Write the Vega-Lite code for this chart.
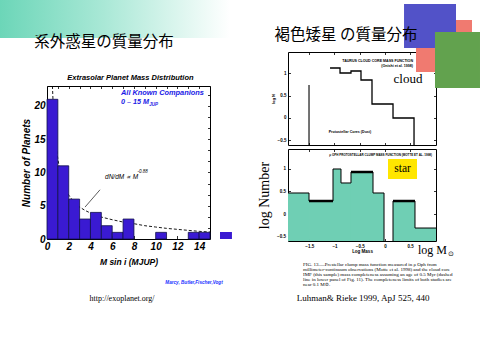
{
"$schema":"https://vega.github.io/schema/vega-lite/v6.json",
"width":480,"height":360,"autosize":"none","padding":0,"background":"white",
"config":{"view":{"stroke":null},"axis":{"grid":false,"domainColor":"black","domainWidth":1,"tickColor":"black","tickWidth":0.8,"labelColor":"black","titleColor":"black","minExtent":0,"labelFlush":false,"labelOverlap":false,"labelBound":false,"zindex":1}},
"resolve":{"scale":{"x":"independent","y":"independent"},"axis":{"x":"independent","y":"independent"}},
"layer":[
{"resolve":{"axis":{"x":"independent","y":"independent"}},
 "layer":[
  {"data":{"values":[{}]},"mark":{"type":"rect","color":{"gradient":"linear","x1":0,"y1":0,"x2":1,"y2":0,"stops":[{"offset":0,"color":"#6cd6b8"},{"offset":0.45,"color":"#a9e8d6"},{"offset":1,"color":"#ffffff"}]}},
   "encoding":{"x":{"datum":-4.33,"type":"quantitative","scale":{"domain":[0,15],"range":[47,210],"nice":false,"zero":false},"axis":null},"x2":{"datum":16.84},"y":{"datum":35.93,"type":"quantitative","scale":{"domain":[0,23],"range":[239,86],"nice":false,"zero":false},"axis":null},"y2":{"datum":30.22}}},
  {"data":{"values":[{"m":0.5,"n":23},{"m":0.6,"n":19},{"m":0.8,"n":14.5},{"m":1.0,"n":12},{"m":1.2,"n":10.2},{"m":1.5,"n":8.4},{"m":2.0,"n":6.6},{"m":2.5,"n":5.5},{"m":3.0,"n":4.8},{"m":3.5,"n":4.3},{"m":4,"n":3.9},{"m":5,"n":3.3},{"m":6,"n":2.9},{"m":7,"n":2.55},{"m":8,"n":2.3},{"m":9,"n":2.0},{"m":10,"n":1.8},{"m":11,"n":1.6},{"m":12,"n":1.45},{"m":13,"n":1.3},{"m":14,"n":1.15},{"m":15,"n":1.05}]},
   "mark":{"type":"line","color":"black","strokeWidth":0.9,"strokeDash":[3,2]},
   "encoding":{"x":{"field":"m","type":"quantitative","scale":{"domain":[0,15],"range":[47,210],"nice":false,"zero":false},"axis":{"orient":"top","offset":-86,"values":[0,1,2,3,4,5,6,7,8,9,10,11,12,13,14,15],"tickSize":-2.5,"labels":false,"title":null}},
    "y":{"field":"n","type":"quantitative","scale":{"domain":[0,23],"range":[239,86],"nice":false,"zero":false},"axis":{"orient":"right","offset":-270,"values":[1.67,3.33,5,6.67,8.33,10,11.67,13.33,15,16.67,18.33,20,21.67],"tickSize":-2.5,"labels":false,"title":null}}}},
  {"data":{"values":[{"lo":0,"hi":1,"count":21},{"lo":1,"hi":2,"count":11},{"lo":2,"hi":3,"count":6},{"lo":3,"hi":4,"count":3},{"lo":4,"hi":5,"count":4},{"lo":5,"hi":6,"count":2},{"lo":6,"hi":7,"count":1},{"lo":7,"hi":8,"count":3},{"lo":10,"hi":11,"count":1},{"lo":13,"hi":14,"count":1},{"lo":14,"hi":15,"count":1}]},
   "mark":{"type":"rect","fill":"#3a1ad2","stroke":"#10104a","strokeWidth":0.8},
   "encoding":{"x":{"field":"lo","type":"quantitative","scale":{"domain":[0,15],"range":[47,210],"nice":false,"zero":false},"axis":{"orient":"bottom","offset":-121,"values":[0,2,4,6,8,10,12,14],"tickSize":-3.5,"labelPadding":6,"labelFont":"Liberation Sans","labelFontSize":10,"labelFontWeight":"bold","labelFontStyle":"italic","title":"M sin i  (MJUP)","titleFont":"Liberation Sans","titleFontSize":8.5,"titleFontWeight":"bold","titleFontStyle":"italic","titlePadding":6}},
    "x2":{"field":"hi"},
    "y":{"field":"count","type":"quantitative","scale":{"domain":[0,23],"range":[239,86],"nice":false,"zero":false},"axis":{"orient":"left","offset":-47,"values":[0,5,10,15,20],"tickSize":-3.5,"labelPadding":5.5,"labelFont":"Liberation Sans","labelFontSize":10,"labelFontWeight":"bold","labelFontStyle":"italic","title":"Number of Planets","titleFont":"Liberation Sans","titleFontSize":10,"titleFontWeight":"bold","titleFontStyle":"italic","titlePadding":2}},
    "y2":{"datum":0}}},
  {"data":{"values":[{}]},"mark":{"type":"rect","fill":"#3a1ad2"},
   "encoding":{"x":{"datum":15.92,"type":"quantitative","scale":{"domain":[0,15],"range":[47,210],"nice":false,"zero":false},"axis":null},"x2":{"datum":17.02},"y":{"datum":1.05,"type":"quantitative","scale":{"domain":[0,23],"range":[239,86],"nice":false,"zero":false},"axis":null},"y2":{"datum":0}}},
  {"data":{"values":[{}]},"mark":{"type":"rule","color":"#333333","strokeWidth":0.8},
   "encoding":{"x":{"datum":4.88,"type":"quantitative","scale":{"domain":[0,15],"range":[47,210],"nice":false,"zero":false},"axis":null},"x2":{"datum":3.5},"y":{"datum":7.4,"type":"quantitative","scale":{"domain":[0,23],"range":[239,86],"nice":false,"zero":false},"axis":null},"y2":{"datum":4.8}}},
  {"data":{"values":[{}]},"mark":{"type":"text","text":"系外惑星の質量分布","font":"Noto Sans CJK JP","fontSize":15.5,"color":"black"},
   "encoding":{"x":{"datum":5.245,"type":"quantitative","scale":{"domain":[0,15],"range":[47,210],"nice":false,"zero":false},"axis":null},"y":{"datum":29.62,"type":"quantitative","scale":{"domain":[0,23],"range":[239,86],"nice":false,"zero":false},"axis":null}}},
  {"data":{"values":[{}]},"mark":{"type":"text","text":"Extrasolar Planet Mass Distribution","font":"Liberation Sans","fontSize":7.5,"fontWeight":"bold","fontStyle":"italic","color":"black"},
   "encoding":{"x":{"datum":7.68,"type":"quantitative","scale":{"domain":[0,15],"range":[47,210],"nice":false,"zero":false},"axis":null},"y":{"datum":24.2,"type":"quantitative","scale":{"domain":[0,23],"range":[239,86],"nice":false,"zero":false},"axis":null}}},
  {"data":{"values":[{}]},"mark":{"type":"text","text":"All Known Companions","align":"left","font":"Liberation Sans","fontSize":7.4,"fontWeight":"bold","fontStyle":"italic","color":"#1a1ae6"},
   "encoding":{"x":{"datum":6.81,"type":"quantitative","scale":{"domain":[0,15],"range":[47,210],"nice":false,"zero":false},"axis":null},"y":{"datum":21.95,"type":"quantitative","scale":{"domain":[0,23],"range":[239,86],"nice":false,"zero":false},"axis":null}}},
  {"data":{"values":[{}]},"mark":{"type":"text","text":"0 – 15 M","align":"left","font":"Liberation Sans","fontSize":7.2,"fontWeight":"bold","fontStyle":"italic","color":"#1a1ae6"},
   "encoding":{"x":{"datum":6.81,"type":"quantitative","scale":{"domain":[0,15],"range":[47,210],"nice":false,"zero":false},"axis":null},"y":{"datum":20.55,"type":"quantitative","scale":{"domain":[0,23],"range":[239,86],"nice":false,"zero":false},"axis":null}}},
  {"data":{"values":[{}]},"mark":{"type":"text","text":"JUP","align":"left","font":"Liberation Sans","fontSize":4.5,"fontWeight":"bold","fontStyle":"italic","color":"#1a1ae6"},
   "encoding":{"x":{"datum":9.42,"type":"quantitative","scale":{"domain":[0,15],"range":[47,210],"nice":false,"zero":false},"axis":null},"y":{"datum":20.15,"type":"quantitative","scale":{"domain":[0,23],"range":[239,86],"nice":false,"zero":false},"axis":null}}},
  {"data":{"values":[{}]},"mark":{"type":"text","text":"dN/dM ∝ M","align":"left","font":"Liberation Sans","fontSize":6.5,"fontStyle":"italic","color":"black"},
   "encoding":{"x":{"datum":5.34,"type":"quantitative","scale":{"domain":[0,15],"range":[47,210],"nice":false,"zero":false},"axis":null},"y":{"datum":9.32,"type":"quantitative","scale":{"domain":[0,23],"range":[239,86],"nice":false,"zero":false},"axis":null}}},
  {"data":{"values":[{}]},"mark":{"type":"text","text":"-0.88","align":"left","font":"Liberation Sans","fontSize":4.5,"fontStyle":"italic","color":"black"},
   "encoding":{"x":{"datum":8.32,"type":"quantitative","scale":{"domain":[0,15],"range":[47,210],"nice":false,"zero":false},"axis":null},"y":{"datum":10.0,"type":"quantitative","scale":{"domain":[0,23],"range":[239,86],"nice":false,"zero":false},"axis":null}}},
  {"data":{"values":[{}]},"mark":{"type":"text","text":"Marcy, Butler,Fischer,Vogt","font":"Liberation Sans","fontSize":4.6,"fontWeight":"bold","fontStyle":"italic","color":"#2030ff"},
   "encoding":{"x":{"datum":13.53,"type":"quantitative","scale":{"domain":[0,15],"range":[47,210],"nice":false,"zero":false},"axis":null},"y":{"datum":-6.61,"type":"quantitative","scale":{"domain":[0,23],"range":[239,86],"nice":false,"zero":false},"axis":null}}},
  {"data":{"values":[{}]},"mark":{"type":"text","text":"http://exoplanet.org/","font":"Liberation Serif, DejaVu Serif, serif","fontSize":8,"color":"black"},
   "encoding":{"x":{"datum":6.9,"type":"quantitative","scale":{"domain":[0,15],"range":[47,210],"nice":false,"zero":false},"axis":null},"y":{"datum":-9.02,"type":"quantitative","scale":{"domain":[0,23],"range":[239,86],"nice":false,"zero":false},"axis":null}}}
 ]},
{"resolve":{"axis":{"x":"independent","y":"independent"}},
 "layer":[
  {"data":{"values":[{"logm":-1.088,"v":1.123},{"logm":-0.89,"v":1.011},{"logm":-0.673,"v":1.056},{"logm":-0.475,"v":0.854},{"logm":-0.257,"v":0.314},{"logm":0.159,"v":0},{"logm":0.575,"v":-0.607}]},
   "mark":{"type":"line","interpolate":"step-after","color":"black","strokeWidth":1.3},
   "encoding":{"x":{"field":"logm","type":"quantitative","scale":{"domain":[-1.92,1.01],"range":[288,436],"nice":false,"zero":false},"axis":{"orient":"bottom","offset":-215,"values":[-1.5,-1,-0.5,0,0.5],"tickSize":-2.5,"labels":false,"title":null,"zindex":0}},
    "y":{"field":"v","type":"quantitative","scale":{"domain":[-0.607,1.483],"range":[145,52],"nice":false,"zero":false},"axis":{"orient":"left","offset":-288,"values":[-0.5,0,0.5,1],"format":".1~f","tickSize":-2.5,"labelPadding":4.5,"labelFont":"Liberation Sans","labelFontSize":4.5,"labelFontWeight":"bold","title":"log N","titleFont":"Liberation Sans","titleFontSize":4,"titleFontWeight":"bold","titlePadding":2,"zindex":0}}}},
  {"data":{"values":[{}]},"mark":{"type":"rule","color":"black","strokeWidth":1.1},
   "encoding":{"x":{"datum":-1.504,"type":"quantitative","scale":{"domain":[-1.92,1.01],"range":[288,436],"nice":false,"zero":false},"axis":{"orient":"top","offset":-52,"values":[-1.5,-1,-0.5,0,0.5],"tickSize":-2.5,"labels":false,"title":null,"zindex":0}},
    "y":{"datum":0.741,"type":"quantitative","scale":{"domain":[-0.607,1.483],"range":[145,52],"nice":false,"zero":false},"axis":{"orient":"right","offset":-44,"values":[-0.5,0,0.5,1],"tickSize":-2.5,"labels":false,"title":null,"zindex":0}},
    "y2":{"datum":-0.607}}},
  {"data":{"values":[{}]},"mark":{"type":"rect","fill":"#5252c8"},
   "encoding":{"x":{"datum":0.377,"type":"quantitative","scale":{"domain":[-1.92,1.01],"range":[288,436],"nice":false,"zero":false},"axis":null},"x2":{"datum":1.406},"y":{"datum":2.562,"type":"quantitative","scale":{"domain":[-0.607,1.483],"range":[145,52],"nice":false,"zero":false},"axis":null},"y2":{"datum":1.573}}},
  {"data":{"values":[{}]},"mark":{"type":"rect","fill":"#f07a70"},
   "encoding":{"x":{"datum":1.406,"type":"quantitative","scale":{"domain":[-1.92,1.01],"range":[288,436],"nice":false,"zero":false},"axis":null},"x2":{"datum":1.723},"y":{"datum":2.202,"type":"quantitative","scale":{"domain":[-0.607,1.483],"range":[145,52],"nice":false,"zero":false},"axis":null},"y2":{"datum":1.932}}},
  {"data":{"values":[{}]},"mark":{"type":"rect","fill":"#62a24e"},
   "encoding":{"x":{"datum":0.99,"type":"quantitative","scale":{"domain":[-1.92,1.01],"range":[288,436],"nice":false,"zero":false},"axis":null},"x2":{"datum":1.881},"y":{"datum":1.932,"type":"quantitative","scale":{"domain":[-0.607,1.483],"range":[145,52],"nice":false,"zero":false},"axis":null},"y2":{"datum":0.674}}},
  {"data":{"values":[{}]},"mark":{"type":"rect","fill":"#f07a70"},
   "encoding":{"x":{"datum":0.614,"type":"quantitative","scale":{"domain":[-1.92,1.01],"range":[288,436],"nice":false,"zero":false},"axis":null},"x2":{"datum":0.99},"y":{"datum":1.573,"type":"quantitative","scale":{"domain":[-0.607,1.483],"range":[145,52],"nice":false,"zero":false},"axis":null},"y2":{"datum":1.033}}},
  {"data":{"values":[{}]},"mark":{"type":"text","text":"褐色矮星 の質量分布","font":"Noto Sans CJK JP","fontSize":15.5,"color":"black"},
   "encoding":{"x":{"datum":-0.772,"type":"quantitative","scale":{"domain":[-1.92,1.01],"range":[288,436],"nice":false,"zero":false},"axis":null},"y":{"datum":1.865,"type":"quantitative","scale":{"domain":[-0.607,1.483],"range":[145,52],"nice":false,"zero":false},"axis":null}}},
  {"data":{"values":[{}]},"mark":{"type":"text","text":"TAURUS CLOUD CORE MASS FUNCTION","align":"right","font":"Liberation Sans","fontSize":3.6,"fontWeight":"bold","color":"black"},
   "encoding":{"x":{"datum":0.555,"type":"quantitative","scale":{"domain":[-1.92,1.01],"range":[288,436],"nice":false,"zero":false},"axis":null},"y":{"datum":1.281,"type":"quantitative","scale":{"domain":[-0.607,1.483],"range":[145,52],"nice":false,"zero":false},"axis":null}}},
  {"data":{"values":[{}]},"mark":{"type":"text","text":"(Onishi et al. 1998)","align":"right","font":"Liberation Sans","fontSize":3.6,"fontWeight":"bold","color":"black"},
   "encoding":{"x":{"datum":0.555,"type":"quantitative","scale":{"domain":[-1.92,1.01],"range":[288,436],"nice":false,"zero":false},"axis":null},"y":{"datum":1.168,"type":"quantitative","scale":{"domain":[-0.607,1.483],"range":[145,52],"nice":false,"zero":false},"axis":null}}},
  {"data":{"values":[{}]},"mark":{"type":"text","text":"Protostellar Cores (Dust)","font":"Liberation Sans","fontSize":3.6,"fontWeight":"bold","color":"black"},
   "encoding":{"x":{"datum":-0.693,"type":"quantitative","scale":{"domain":[-1.92,1.01],"range":[288,436],"nice":false,"zero":false},"axis":null},"y":{"datum":-0.315,"type":"quantitative","scale":{"domain":[-0.607,1.483],"range":[145,52],"nice":false,"zero":false},"axis":null}}},
  {"data":{"values":[{}]},"mark":{"type":"text","text":"cloud","font":"Liberation Serif, DejaVu Serif, serif","fontSize":13,"color":"black"},
   "encoding":{"x":{"datum":0.456,"type":"quantitative","scale":{"domain":[-1.92,1.01],"range":[288,436],"nice":false,"zero":false},"axis":null},"y":{"datum":0.876,"type":"quantitative","scale":{"domain":[-0.607,1.483],"range":[145,52],"nice":false,"zero":false},"axis":null}}}
 ]},
{"resolve":{"axis":{"x":"independent","y":"independent"}},
 "layer":[
  {"data":{"values":[{"lo":-1.92,"hi":-1.504,"v":0.464},{"lo":-1.504,"hi":-1.029,"v":0.288},{"lo":-1.029,"hi":-0.871,"v":0.991},{"lo":-0.871,"hi":-0.673,"v":0.684},{"lo":-0.673,"hi":-0.237,"v":0.925},{"lo":-0.237,"hi":-0.019,"v":0.464},{"lo":0.159,"hi":0.594,"v":0.288},{"lo":0.594,"hi":1.01,"v":-0.305}]},
   "mark":{"type":"rect","fill":"#6fcfb4"},
   "encoding":{"x":{"field":"lo","type":"quantitative","scale":{"domain":[-1.92,1.01],"range":[288,436],"nice":false,"zero":false},"axis":{"orient":"bottom","offset":-119,"values":[-1.5,-1,-0.5,0,0.5],"format":".1~f","tickSize":-2.5,"labelPadding":4.5,"labelFont":"Liberation Sans","labelFontSize":4.5,"labelFontWeight":"bold","title":"Log Mass","titleFont":"Liberation Sans","titleFontSize":4.5,"titleFontWeight":"bold","titlePadding":1}},
    "x2":{"field":"hi"},
    "y":{"field":"v","type":"quantitative","scale":{"domain":[-0.59,1.43],"range":[241,149],"nice":false,"zero":false},"axis":{"orient":"left","offset":-288,"values":[-0.5,0,0.5,1],"format":".1~f","tickSize":-2.5,"labelPadding":5,"labelFont":"Liberation Sans","labelFontSize":4.5,"labelFontWeight":"bold","title":"log Number","titleFont":"Liberation Serif, DejaVu Serif, serif","titleFontSize":14,"titleFontWeight":"normal","titlePadding":5}},
    "y2":{"datum":-0.59}}},
  {"data":{"values":[{"part":"a","lm":-1.92,"v":0.464},{"part":"a","lm":-1.504,"v":0.288},{"part":"a","lm":-1.029,"v":0.991},{"part":"a","lm":-0.871,"v":0.684},{"part":"a","lm":-0.673,"v":0.925},{"part":"a","lm":-0.237,"v":0.464},{"part":"a","lm":-0.019,"v":-0.59},{"part":"b","lm":0.159,"v":0.288},{"part":"b","lm":0.594,"v":-0.305},{"part":"b","lm":1.01,"v":-0.305}]},
   "mark":{"type":"line","interpolate":"step-after","color":"black","strokeWidth":1},
   "encoding":{"detail":{"field":"part"},
    "x":{"field":"lm","type":"quantitative","scale":{"domain":[-1.92,1.01],"range":[288,436],"nice":false,"zero":false},"axis":{"orient":"top","offset":-149,"values":[-1.5,-1,-0.5,0,0.5],"tickSize":-2.5,"labels":false,"title":null}},
    "y":{"field":"v","type":"quantitative","scale":{"domain":[-0.59,1.43],"range":[241,149],"nice":false,"zero":false},"axis":{"orient":"right","offset":-44,"values":[-0.5,0,0.5,1],"tickSize":-2.5,"labels":false,"title":null}}}},
  {"data":{"values":[{}]},"mark":{"type":"rule","color":"black","strokeWidth":1},
   "encoding":{"x":{"datum":0.159,"type":"quantitative","scale":{"domain":[-1.92,1.01],"range":[288,436],"nice":false,"zero":false},"axis":null},"y":{"datum":-0.59,"type":"quantitative","scale":{"domain":[-0.59,1.43],"range":[241,149],"nice":false,"zero":false},"axis":null},"y2":{"datum":0.288}}},
  {"data":{"values":[{"lo":-1.504,"hi":-1.029,"v":0.288},{"lo":-0.673,"hi":-0.237,"v":0.925},{"lo":0.159,"hi":0.594,"v":0.288}]},
   "mark":{"type":"rule","color":"black","strokeWidth":2.5},
   "encoding":{"x":{"field":"lo","type":"quantitative","scale":{"domain":[-1.92,1.01],"range":[288,436],"nice":false,"zero":false},"axis":null},"x2":{"field":"hi"},"y":{"field":"v","type":"quantitative","scale":{"domain":[-0.59,1.43],"range":[241,149],"nice":false,"zero":false},"axis":null}}},
  {"data":{"values":[{}]},"mark":{"type":"rect","fill":"#ffe600"},
   "encoding":{"x":{"datum":0.06,"type":"quantitative","scale":{"domain":[-1.92,1.01],"range":[288,436],"nice":false,"zero":false},"axis":null},"x2":{"datum":0.634},"y":{"datum":1.21,"type":"quantitative","scale":{"domain":[-0.59,1.43],"range":[241,149],"nice":false,"zero":false},"axis":null},"y2":{"datum":0.771}}},
  {"data":{"values":[{}]},"mark":{"type":"text","text":"star","font":"Liberation Serif, DejaVu Serif, serif","fontSize":11.5,"color":"black"},
   "encoding":{"x":{"datum":0.347,"type":"quantitative","scale":{"domain":[-1.92,1.01],"range":[288,436],"nice":false,"zero":false},"axis":null},"y":{"datum":0.991,"type":"quantitative","scale":{"domain":[-0.59,1.43],"range":[241,149],"nice":false,"zero":false},"axis":null}}},
  {"data":{"values":[{}]},"mark":{"type":"text","text":"ρ OPH PROTOSTELLAR CLUMP MASS FUNCTION (MOTTE ET AL. 1998)","align":"right","font":"Liberation Sans","fontSize":3,"fontWeight":"bold","color":"black"},
   "encoding":{"x":{"datum":0.931,"type":"quantitative","scale":{"domain":[-1.92,1.01],"range":[288,436],"nice":false,"zero":false},"axis":null},"y":{"datum":1.298,"type":"quantitative","scale":{"domain":[-0.59,1.43],"range":[241,149],"nice":false,"zero":false},"axis":null}}},
  {"data":{"values":[{}]},"mark":{"type":"text","text":"log M","align":"left","font":"Liberation Serif, DejaVu Serif, serif","fontSize":12,"color":"black"},
   "encoding":{"x":{"datum":0.654,"type":"quantitative","scale":{"domain":[-1.92,1.01],"range":[288,436],"nice":false,"zero":false},"axis":null},"y":{"datum":-0.788,"type":"quantitative","scale":{"domain":[-0.59,1.43],"range":[241,149],"nice":false,"zero":false},"axis":null}}},
  {"data":{"values":[{}]},"mark":{"type":"text","text":"⊙","align":"left","font":"DejaVu Sans","fontSize":7,"color":"black"},
   "encoding":{"x":{"datum":1.25,"type":"quantitative","scale":{"domain":[-1.92,1.01],"range":[288,436],"nice":false,"zero":false},"axis":null},"y":{"datum":-0.88,"type":"quantitative","scale":{"domain":[-0.59,1.43],"range":[241,149],"nice":false,"zero":false},"axis":null}}},
  {"data":{"values":[{}]},"mark":{"type":"text","text":["FIG. 13.—Prestellar clump mass function measured in ρ Oph from","millimeter-continuum observations (Motte et al. 1998) and the cloud core","IMF (this sample) mass completeness assuming an age of 0.5 Myr (dashed","line in lower panel of Fig. 11). The completeness limits of both studies are","near 0.1 M⊙."],"align":"left","baseline":"top","font":"Liberation Serif, DejaVu Serif, serif","fontSize":5,"lineHeight":5,"color":"black"},
   "encoding":{"x":{"datum":-1.623,"type":"quantitative","scale":{"domain":[-1.92,1.01],"range":[288,436],"nice":false,"zero":false},"axis":null},"y":{"datum":-1.062,"type":"quantitative","scale":{"domain":[-0.59,1.43],"range":[241,149],"nice":false,"zero":false},"axis":null}}},
  {"data":{"values":[{}]},"mark":{"type":"text","text":"Luhman& Rieke 1999, ApJ 525, 440","font":"Liberation Serif, DejaVu Serif, serif","fontSize":9,"color":"black"},
   "encoding":{"x":{"datum":-0.435,"type":"quantitative","scale":{"domain":[-1.92,1.01],"range":[288,436],"nice":false,"zero":false},"axis":null},"y":{"datum":-1.842,"type":"quantitative","scale":{"domain":[-0.59,1.43],"range":[241,149],"nice":false,"zero":false},"axis":null}}}
 ]}
]
}
